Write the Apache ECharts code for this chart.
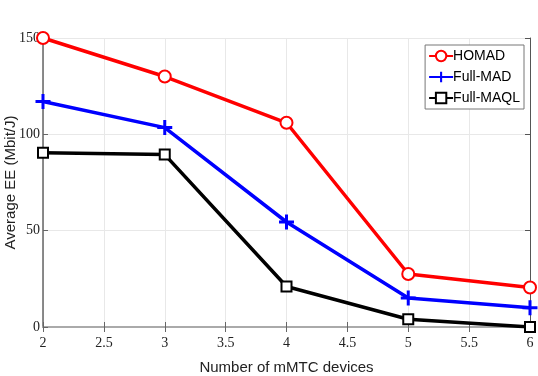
<!doctype html>
<html>
<head>
<meta charset="UTF-8">
<title>Average EE</title>
<script src="https://cdn.jsdelivr.net/npm/echarts@6/dist/echarts.min.js"></script>
<style>
  html, body { margin: 0; padding: 0; background: #fff; }
  #main { width: 538px; height: 376px; }
</style>
</head>
<body>
<div id="main"></div>
<script>
// data
var devices = [2, 3, 4, 5, 6];
var homad = [150, 130, 106, 27.5, 20.5];
var fullMad = [117, 103.5, 54.5, 15, 10];
var fullMaql = [90.5, 89.5, 21, 4, 0];

var tickFont = 'Liberation Serif';
var textFont = 'Liberation Sans Narrow, Liberation Sans, sans-serif';

function pairs(ys) {
    return devices.map(function (x, i) { return [x, ys[i]]; });
}

var plus = 'path://M4,0H6V4H10V6H6V10H4V6H0V4H4Z';

var myChart = echarts.init(document.getElementById('main'));

var option = {
    backgroundColor: '#fff',
    animation: false,
    grid: { left: 43, right: 8, top: 38, bottom: 49, containLabel: false, outerBoundsMode: 'none' },
    legend: {
        right: 14,
        top: 45,
        orient: 'vertical',
        backgroundColor: '#fff',
        borderColor: '#777',
        borderWidth: 1,
        borderRadius: 0,
        padding: [4, 4, 4, 3],
        itemWidth: 24,
        itemHeight: 13,
        itemGap: 7,
        textStyle: { fontFamily: textFont, fontSize: 14, color: '#000', padding: [0, 0, 0, -5] },
        data: ['HOMAD', 'Full-MAD', 'Full-MAQL']
    },
    xAxis: [{
        type: 'value',
        min: 2, max: 6, interval: 0.5,
        name: 'Number of mMTC devices',
        nameLocation: 'middle',
        nameGap: 33,
        nameTextStyle: { fontFamily: textFont, fontSize: 15, color: '#222' },
        axisLine: { lineStyle: { color: '#666', width: 1.5 } },
        axisTick: { inside: true, length: 5, lineStyle: { color: '#666' } },
        axisLabel: { fontFamily: tickFont, fontSize: 14, color: '#222', margin: 9 },
        splitLine: { show: true, lineStyle: { color: '#e8e8e8' } }
    }, {
        type: 'value', position: 'top',
        min: 2, max: 6, interval: 0.5,
        axisLine: { show: true, lineStyle: { color: '#aaa', width: 2 } },
        axisTick: { show: true, inside: true, length: 5, lineStyle: { color: '#666' } },
        axisLabel: { show: false },
        splitLine: { show: false }
    }],
    yAxis: [{
        type: 'value',
        min: 0, max: 150, interval: 50,
        name: 'Average EE (Mbit/J)',
        nameLocation: 'middle',
        nameGap: 25,
        nameMoveOverlap: false,
        nameTextStyle: { fontFamily: textFont, fontSize: 15, color: '#222' },
        axisLine: { show: true, lineStyle: { color: '#666', width: 1.5 } },
        axisTick: { show: true, inside: true, length: 5, lineStyle: { color: '#666' } },
        axisLabel: { fontFamily: tickFont, fontSize: 14, color: '#222', margin: 3 },
        splitLine: { show: true, lineStyle: { color: '#e8e8e8' } }
    }, {
        type: 'value', position: 'right',
        min: 0, max: 150, interval: 50,
        axisLine: { show: true, lineStyle: { color: '#555', width: 1 } },
        axisTick: { show: true, inside: true, length: 5, lineStyle: { color: '#555' } },
        axisLabel: { show: false },
        splitLine: { show: false }
    }],
    series: [{
        name: 'HOMAD',
        type: 'line',
        data: pairs(homad),
        symbol: 'emptyCircle',
        symbolSize: 12,
        color: '#ff0000',
        lineStyle: { width: 3.5, color: '#ff0000' },
        itemStyle: { color: '#ff0000', borderWidth: 2.5 }
    }, {
        name: 'Full-MAD',
        type: 'line',
        data: pairs(fullMad),
        symbol: plus,
        symbolSize: 15,
        color: '#0000ff',
        lineStyle: { width: 3.5, color: '#0000ff' },
        itemStyle: { color: '#0000ff' }
    }, {
        name: 'Full-MAQL',
        type: 'line',
        data: pairs(fullMaql),
        symbol: 'emptyRect',
        symbolSize: 10,
        color: '#000',
        lineStyle: { width: 3.5, color: '#000' },
        itemStyle: { color: '#000', borderWidth: 2.5 }
    }]
};

myChart.setOption(option);
</script>
</body>
</html>
